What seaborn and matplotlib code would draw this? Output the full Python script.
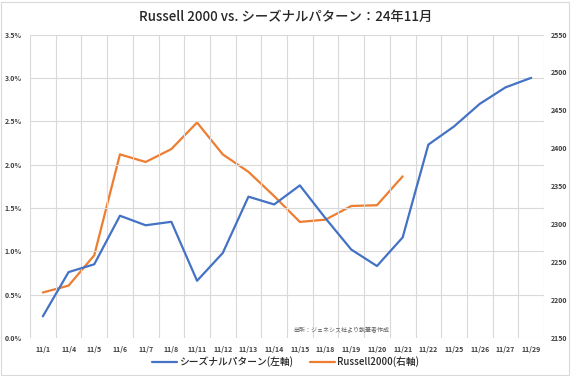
import numpy as np
import pandas as pd
import seaborn as sns
import matplotlib.pyplot as plt
from matplotlib.ticker import FixedLocator

dates = ['11/1', '11/4', '11/5', '11/6', '11/7', '11/8', '11/11', '11/12', '11/13', '11/14',
         '11/15', '11/18', '11/19', '11/20', '11/21', '11/22', '11/25', '11/26', '11/27', '11/29']
seasonal = [0.25, 0.76, 0.85, 1.41, 1.30, 1.34, 0.66, 0.98, 1.63, 1.54,
            1.76, 1.38, 1.02, 0.83, 1.16, 2.23, 2.44, 2.70, 2.89, 3.00]
russell = [2210, 2219, 2259, 2392, 2382, 2399, 2434, 2392, 2369, 2337,
           2303, 2306, 2324, 2325, 2363]

BLUE = '#4472C4'
ORANGE = '#ED7D31'

sns.set_style('white')
plt.rcParams['font.family'] = ['Noto Sans CJK JP', 'DejaVu Sans']

df_s = pd.DataFrame({'x': np.arange(len(dates)), 'y': seasonal})
df_r = pd.DataFrame({'x': np.arange(len(russell)), 'y': russell})

fig = plt.figure(figsize=(5.71, 3.76), dpi=100)
ax = fig.add_axes([30 / 571, 38 / 376, 514 / 571, 303.5 / 376])
ax2 = ax.twinx()

sns.lineplot(data=df_s, x='x', y='y', ax=ax, color=BLUE, lw=1.6, label='シーズナルパターン(左軸)', legend=False)
sns.lineplot(data=df_r, x='x', y='y', ax=ax2, color=ORANGE, lw=1.6, label='Russell2000(右軸)', legend=False)

ax.set_xlim(-0.5, len(dates) - 0.5)
ax.set_ylim(0, 3.5)
ax2.set_ylim(2150, 2550)
ax.set_xticks(np.arange(len(dates)))
ax.set_xticklabels(dates)
ax.xaxis.set_minor_locator(FixedLocator(np.arange(len(dates) + 1) - 0.5))
ax.set_yticks(np.arange(0, 3.51, 0.5))
ax.set_yticklabels([f'{v:.1f}%' for v in np.arange(0, 3.51, 0.5)])
ax2.set_yticks(np.arange(2150, 2551, 50))

ax.grid(axis='y', which='major', color='#d9d9d9', lw=0.8)
ax.grid(axis='x', which='minor', color='#d9d9d9', lw=0.8)
ax.grid(axis='x', which='major', visible=False)
for a in (ax, ax2):
    for s in a.spines.values():
        s.set_visible(False)
    a.set_xlabel('')
    a.set_ylabel('')
ax.tick_params(axis='both', which='both', length=0, labelsize=5, labelcolor='#404040', pad=6)
ax2.tick_params(axis='y', length=0, labelsize=5, labelcolor='#404040', pad=5)
for t in ax.get_xticklabels() + ax.get_yticklabels() + ax2.get_yticklabels():
    t.set_fontweight('bold')
ax.set_zorder(ax2.get_zorder() + 1)
ax.patch.set_visible(False)

fig.text(0.5, 1 - 17 / 376, 'Russell 2000 vs. シーズナルパターン：24年11月', ha='center', va='center',
         fontsize=9.6, fontweight='medium', color='#262626')
fig.text(293 / 571, 1 - 330 / 376, '出所：ジェネシス社より執筆者作成', ha='left', va='center',
         fontsize=4.3, color='#595959')

h1, l1 = ax.get_legend_handles_labels()
h2, l2 = ax2.get_legend_handles_labels()
leg = fig.legend(h1 + h2, l1 + l2, loc='center', bbox_to_anchor=(0.5, 1 - 362 / 376), ncol=2,
                 frameon=False, fontsize=7, handlelength=2.5, columnspacing=1.8, handletextpad=0.2)
for t in leg.get_texts():
    t.set_fontweight('medium')
    t.set_color('#262626')

fig.patches.append(plt.Rectangle((1 / 571, 1 / 376), 568 / 571, 373 / 376, transform=fig.transFigure,
                                 fill=False, edgecolor='#d9d9d9', lw=0.8))
fig.savefig('out.png', dpi=100)
